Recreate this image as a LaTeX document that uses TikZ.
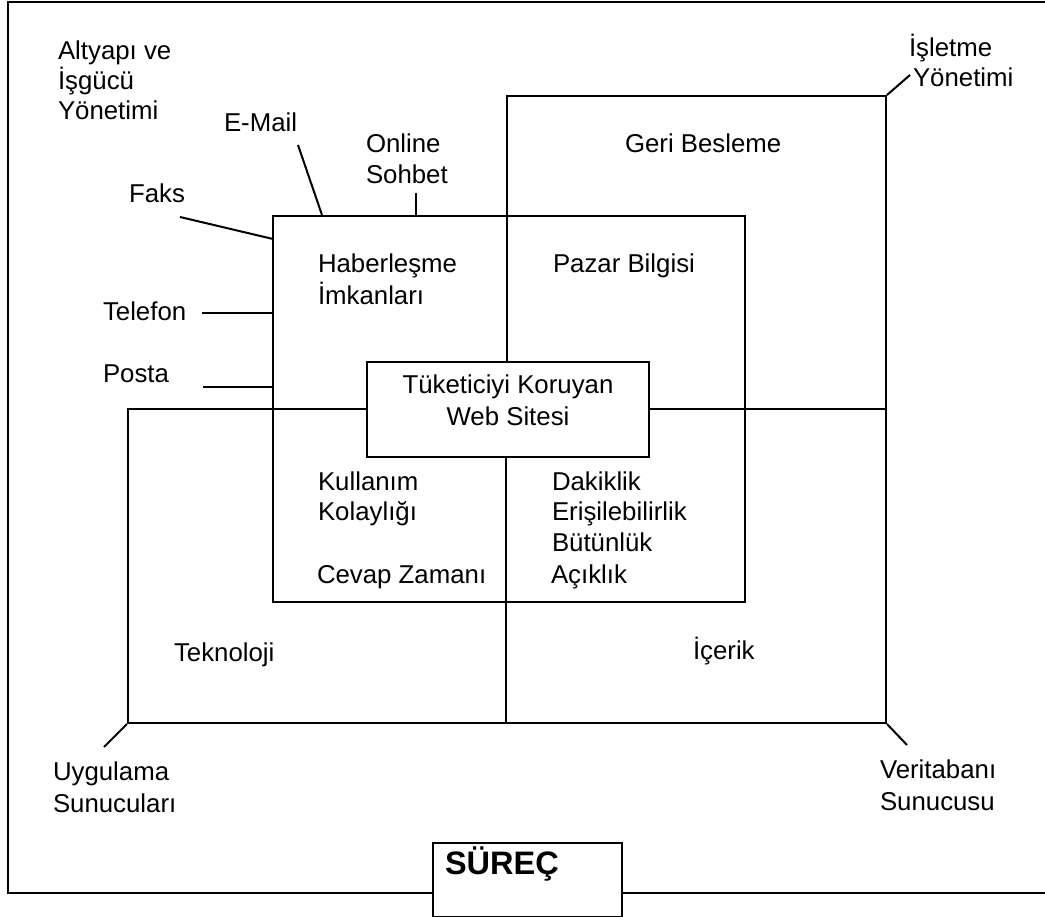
\documentclass[tikz,border=0pt]{standalone}
\usepackage{fontspec}
\setmainfont{Liberation Sans}
\begin{document}
\begin{tikzpicture}[x=1pt,y=-1pt,line width=2pt,line join=miter,
  lbl/.style={inner sep=0pt,anchor=base west,font=\fontsize{25.8}{31}\selectfont},
  lblc/.style={lbl,anchor=base},
  boxn/.style={draw,inner sep=0pt,rectangle}]
\useasboundingbox (0,0) rectangle (1045,917);
% outer frame
\coordinate (oTR) at (1046,2);
\coordinate (oTL) at (8,2);
\coordinate (oBL) at (8,893);
\coordinate (oBR) at (1046,893);
\node[boxn,fill=white,minimum width=189pt,minimum height=74pt] (surec) at (527.5,880) {};
\draw (oTR) -- (oTL) -- (oBL) -- (oBL -| surec.west);
\draw (surec.east |- oBR) -- (oBR);
\node[lbl,font=\bfseries\fontsize{32.5}{36}\selectfont] (surect) at (444,874) {SÜREÇ};
% boxes
\node[boxn,minimum width=758pt,minimum height=314pt] (lower) at (507,566) {};
\node[boxn,minimum width=379pt,minimum height=313pt] (geri) at (696.5,252.5) {};
\draw (geri.south west) -- (geri.west |- lower.south);
\node[boxn,minimum width=472pt,minimum height=386pt] (haber) at (509,409) {};
% connectors
\coordinate (faksE) at (180,217);
\coordinate (faksH) at (273,239);
\draw (faksE) -- (faksH);
\coordinate (mailE) at (298,145);
\coordinate (mailH) at (322,0 |- haber.north);
\draw (mailE) -- (mailH);
\coordinate (onlE) at (416,193);
\draw (onlE) -- (onlE |- haber.north);
\coordinate (telE) at (202,313);
\draw (telE) -- (telE -| haber.west);
\coordinate (posE) at (203,387);
\draw (posE) -- (posE -| haber.west);
\coordinate (islE) at (910,75);
\draw (geri.north east) -- (islE);
\coordinate (uygE) at (104,747);
\draw (lower.south west) -- (uygE);
\coordinate (verE) at (907,745);
\draw (lower.south east) -- (verE);
% web site box
\node[boxn,fill=white,minimum width=282pt,minimum height=95pt] (web) at (508,409.5) {};
\node[lblc] (web1) at (508,394) {Tüketiciyi Koruyan};
\node[lblc] (web2) at (508,426) {Web Sitesi};
% labels
\node[lbl] (alt1) at (57,60) {Altyapı ve};
\node[lbl] (alt2) at (57,90) {İşgücü};
\node[lbl] (alt3) at (57,120) {Yönetimi};
\node[lbl] (mail) at (223,132) {E-Mail};
\node[lbl] (onl1) at (365,153) {Online};
\node[lbl] (onl2) at (365,184) {Sohbet};
\node[lbl] (faks) at (128,203) {Faks};
\node[lbl] (tel) at (102,321) {Telefon};
\node[lbl] (pos) at (102,383) {Posta};
\node[lbl] (hab1) at (317,273) {Haberleşme};
\node[lbl] (hab2) at (317,305) {İmkanları};
\node[lbl] (paz) at (552,273) {Pazar Bilgisi};
\node[lbl] (ger) at (624,153) {Geri Besleme};
\node[lbl] (isl1) at (908,57) {İşletme};
\node[lbl] (isl2) at (912,87) {Yönetimi};
\node[lbl] (kul1) at (317,490) {Kullanım};
\node[lbl] (kul2) at (317,520) {Kolaylığı};
\node[lbl] (cev) at (316,583) {Cevap Zamanı};
\node[lbl] (dak1) at (551,490) {Dakiklik};
\node[lbl] (dak2) at (551,520) {Erişilebilirlik};
\node[lbl] (dak3) at (551,551) {Bütünlük};
\node[lbl] (dak4) at (550,583) {Açıklık};
\node[lbl] (tek) at (173,661) {Teknoloji};
\node[lbl] (ice) at (692,659) {İçerik};
\node[lbl] (uyg1) at (52,780) {Uygulama};
\node[lbl] (uyg2) at (52,812) {Sunucuları};
\node[lbl] (ver1) at (879,778) {Veritabanı};
\node[lbl] (ver2) at (879,810) {Sunucusu};
\end{tikzpicture}
\end{document}
